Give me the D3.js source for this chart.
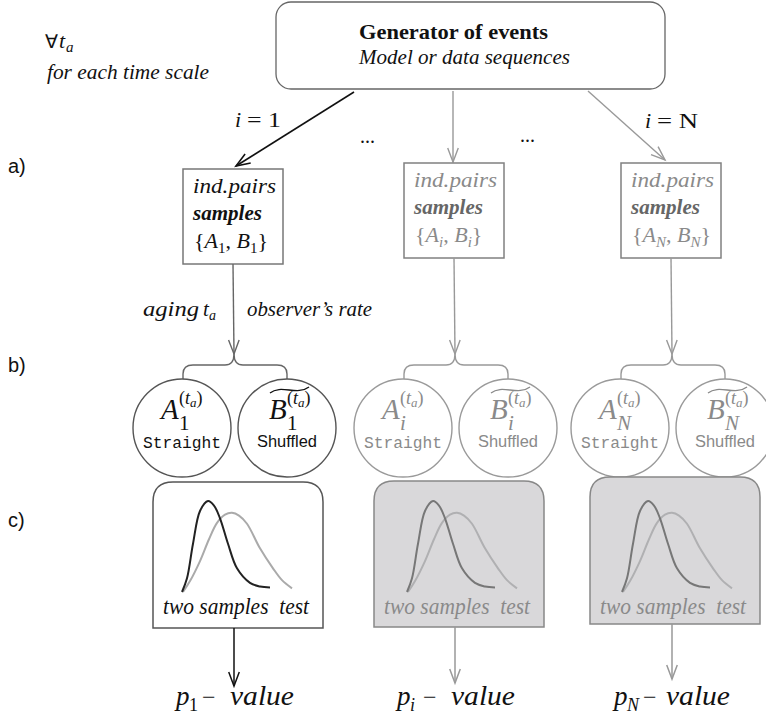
<!DOCTYPE html>
<html><head><meta charset="utf-8">
<script src="https://cdn.jsdelivr.net/npm/d3@7"></script>
<style>body{margin:0;background:#fff}svg{display:block}</style>
</head><body>
<svg id="c" width="766" height="726"></svg>
<script>
// ---- data ----
const columns = ["1", "i", "N"];
const panelLabels = ["a)", "b)", "c)"];
const branchLabels = ["i = 1", "i = N"];
const sampleLines = ["ind.pairs", "samples"];
const circleNames = ["Straight", "Shuffled"];
const testLabel = "two samples  test";
// distribution sketches (relative x, normalised height)
const straightX = [0, 5, 11, 18, 26, 32, 38, 46, 55, 68, 78, 88];
const straightY = [0, 0.15, 0.53, 0.89, 1.0, 0.95, 0.81, 0.53, 0.26, 0.10, 0.06, 0.05];
const shuffledX = [1, 8, 18, 27, 35, 43, 50, 57, 65, 78, 91, 100, 110];
const shuffledY = [0, 0.12, 0.34, 0.58, 0.76, 0.85, 0.87, 0.84, 0.75, 0.48, 0.26, 0.13, 0.04];

// ---- layout ----
const svg = d3.select("#c");
const serif = "'Liberation Serif','DejaVu Serif',serif";
const sans = "'Liberation Sans',Arial,sans-serif";
const mono = "'Liberation Mono','DejaVu Sans Mono',monospace";

const colX = d3.scaleOrdinal().domain(columns).range([233, 454, 671]);
const boxC = d3.scaleOrdinal().domain(columns).range([238, 459, 675]);
const boxTop = d3.scaleOrdinal().domain(columns).range([482, 481, 477]);
const boxBot = d3.scaleOrdinal().domain(columns).range([628, 627, 624]);
const curveO = d3.scaleOrdinal().domain(columns).range([182, 407, 622]);
const aBoxTop = d3.scaleOrdinal().domain(columns).range([169, 163, 163]);
const pTip = d3.scaleOrdinal().domain(columns).range([686, 683, 679]);

function T(x, y, s, o = {}) {
  const t = svg.append("text").attr("x", x).attr("y", y).text(s)
    .attr("font-family", o.ff || serif).attr("font-size", o.fs || 20)
    .attr("fill", o.fill || "#111");
  if (o.it) t.attr("font-style", "italic");
  if (o.bold) t.attr("font-weight", "bold");
  if (o.anchor) t.attr("text-anchor", o.anchor);
  if (o.len) t.attr("textLength", o.len).attr("lengthAdjust", "spacingAndGlyphs");
  return t;
}
function arrow(x0, y0, x1, y1, color, w) {
  svg.append("line").attr("x1", x0).attr("y1", y0).attr("x2", x1).attr("y2", y1)
    .attr("stroke", color).attr("stroke-width", w);
  const ang = Math.atan2(y1 - y0, x1 - x0), L = 15, a = 0.36;
  svg.append("path")
    .attr("d", `M${x1 - L * Math.cos(ang - a)},${y1 - L * Math.sin(ang - a)}L${x1},${y1}L${x1 - L * Math.cos(ang + a)},${y1 - L * Math.sin(ang + a)}`)
    .attr("fill", "none").attr("stroke", color).attr("stroke-width", w);
}

// top-left
T(45, 48, "∀", { fs: 19, ff: sans });
T(59, 48, "t", { fs: 22, it: true });
T(66, 52, "a", { fs: 15, it: true });
T(47, 79, "for each time scale", { fs: 20, it: true, len: 162 });

// panel labels
const panelY = [173, 372, 527];
panelLabels.forEach((l, k) => T(8, panelY[k], l, { fs: 20, ff: sans }));

// generator box
svg.append("rect").attr("x", 276).attr("y", 2).attr("width", 389).attr("height", 87)
  .attr("rx", 15).attr("fill", "#fff").attr("stroke", "#666").attr("stroke-width", 1.3);
T(359, 39, "Generator of events", { fs: 22, bold: true, len: 189 });
T(359, 64, "Model or data sequences", { fs: 21, it: true, len: 211 });

// branch arrows
arrow(354, 92, 236, 166, "#111", 1.6);
arrow(453, 91, 453, 162, "#999", 1.4);
arrow(588, 91, 665, 160, "#999", 1.4);
T(235, 127, "i", { fs: 22, it: true });
T(247, 127, "= 1", { fs: 22, len: 34 });
T(645, 128, "i", { fs: 22, it: true });
T(657, 128, "= N", { fs: 22, len: 41 });
T(360, 143, "...", { fs: 20 });
T(520, 142, "...", { fs: 20 });

// columns
const distXScale = d3.scaleLinear().domain([0, 110]);
const distYScale = d3.scaleLinear().domain([0, 1]).range([592, 501]);

columns.forEach((c, k) => {
  const first = k === 0;
  const ink = first ? "#111" : "#8a8a8a";
  const stroke = first ? "#777" : "#808080";
  const lineC = first ? "#666" : "#999";
  const cx = colX(c);

  // a) sample box
  const bt = aBoxTop(c), bl = cx - 50;
  svg.append("rect").attr("x", bl).attr("y", bt).attr("width", 100).attr("height", 95)
    .attr("fill", "#fff").attr("stroke", stroke).attr("stroke-width", 1.5);
  T(bl + 10, bt + 24, sampleLines[0], { fs: 22, it: true, fill: ink, len: 83 });
  T(bl + 10, bt + 51, sampleLines[1], { fs: 22, it: true, bold: true, fill: first ? "#111" : "#666", len: 69 });
  const s = T(bl + 11, bt + 79, "{", { fs: 22, fill: ink });
  s.append("tspan").attr("font-style", "italic").text("A");
  s.append("tspan").attr("font-size", 15).attr("dy", 5).text(c);
  s.append("tspan").attr("dy", -5).text(", ");
  s.append("tspan").attr("font-style", "italic").text("B");
  s.append("tspan").attr("font-size", 15).attr("dy", 5).text(c);
  s.append("tspan").attr("dy", -5).text("}");
  if (c !== "1") s.selectAll("tspan").filter((d, j) => j === 1 || j === 4).attr("font-style", "italic");

  // stem + arrow to brace
  arrow(cx, bt + 95, cx + 1, 354, lineC, 1.4);
  // brace
  const lx = cx - 50, rx = cx + 54, by = 365, tip = 354;
  svg.append("path")
    .attr("d", `M${lx},${380}V${by + 9}Q${lx},${by} ${lx + 10},${by}H${cx - 8}Q${cx + 1},${by} ${cx + 1},${tip}Q${cx + 1},${by} ${cx + 10},${by}H${rx - 10}Q${rx},${by} ${rx},${by + 9}V${379}`)
    .attr("fill", "none").attr("stroke", lineC).attr("stroke-width", 1.4);

  // b) circles
  const cA = cx - 51, cB = cx + 54, cy = 428;
  [cA, cB].forEach(x => svg.append("circle").attr("cx", x).attr("cy", cy).attr("r", 49)
    .attr("fill", "#fff").attr("stroke", first ? "#555" : "#9a9a9a").attr("stroke-width", 1.4));
  const sym = (x, letter) => {
    T(x - 21, 419, letter, { fs: 29, it: true, fill: ink });
    const sup = T(x - 3, 404, "(", { fs: 18, fill: ink });
    sup.append("tspan").attr("font-style", "italic").text("t");
    sup.append("tspan").attr("font-style", "italic").attr("font-size", 13).attr("dy", 3).text("a");
    sup.append("tspan").attr("dy", -3).text(")");
    T(x - 3, 430, c, { fs: 21, it: c !== "1", fill: ink });
  };
  sym(cA, "A");
  sym(cB + 3, "B");
  svg.append("path")
    .attr("d", `M${cB - 17},${393}C${cB - 6},${384} ${cB + 10},${396} ${cB + 22},${387}`)
    .attr("fill", "none").attr("stroke", ink).attr("stroke-width", 1.3);
  T(cA, 448, circleNames[0], { fs: 16, ff: mono, anchor: "middle", fill: ink, len: 78 });
  T(cB, 447, circleNames[1], { fs: 16, ff: sans, anchor: "middle", fill: ink, len: 60 });

  // c) test box
  const L = boxC(c) - 85, R = boxC(c) + 85, top = boxTop(c), bot = boxBot(c), r = 20;
  svg.append("path")
    .attr("d", `M${L},${bot}V${top + r}Q${L},${top} ${L + r},${top}H${R - r}Q${R},${top} ${R},${top + r}V${bot}Z`)
    .attr("fill", first ? "#fff" : "#d9d8da").attr("stroke", first ? "#555" : "#888").attr("stroke-width", 1.5);
  const xs = distXScale.copy().range([curveO(c), curveO(c) + 110]);
  const line = d3.line().x(d => xs(d[0])).y(d => distYScale(d[1])).curve(d3.curveCatmullRom.alpha(0.5));
  svg.append("path").datum(d3.zip(shuffledX, shuffledY)).attr("d", line)
    .attr("fill", "none").attr("stroke", first ? "#aaa" : "#b0b0b2").attr("stroke-width", 2);
  svg.append("path").datum(d3.zip(straightX, straightY)).attr("d", line)
    .attr("fill", "none").attr("stroke", first ? "#222" : "#777").attr("stroke-width", 2);
  T(boxC(c) - 75, 614, testLabel, { fs: 23, it: true, fill: ink, len: 146 }).style("white-space", "pre");

  // p-value
  const px = cx + 1;
  arrow(px, bot, px, pTip(c), first ? "#111" : "#999", 1.5);
  const pl = cx - 57;
  T(pl, 705, "p", { fs: 27, it: true, fill: "#111" });
  T(pl + 13, 711, c, { fs: 18, it: c !== "1", fill: "#111" });
  T(pl + (c === "N" ? 29 : 26), 705, "−", { fs: 24, fill: "#111" });
  T(pl + (c === "N" ? 52 : 54), 705, "value", { fs: 27, it: true, fill: "#111", len: 64 });
});

// aging / observer labels
T(143, 316, "aging", { fs: 20, it: true, len: 56 });
T(203, 316, "t", { fs: 21, it: true });
T(209, 320, "a", { fs: 14, it: true });
T(247, 316, "observer’s rate", { fs: 20, it: true, len: 125 });
</script>
</body></html>
